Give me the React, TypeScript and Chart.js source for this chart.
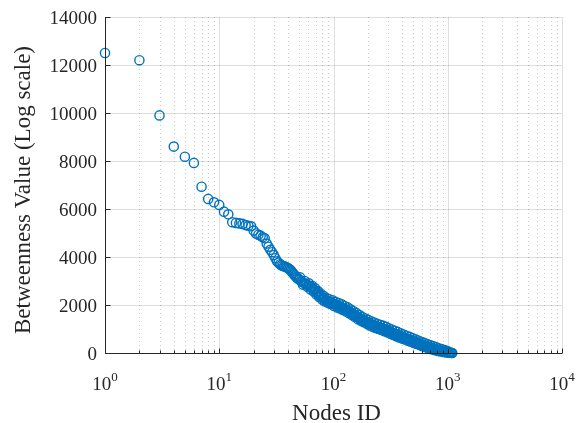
import React, { useEffect, useRef } from "react";
import { Chart, registerables } from "chart.js";

Chart.register(...registerables);

const nodeIds: number[] = [
  1, 2, 3, 4, 5, 6, 7, 8, 9, 10, 11, 12, 13, 14, 15, 16, 17, 18, 19, 20,
  21, 22, 23, 24, 25, 26, 27, 28, 29, 30, 31, 32, 33, 34, 35, 36, 37, 38, 39, 40,
  41, 42, 43, 44, 45, 46, 47, 48, 49, 50,
  52, 53, 55, 57, 58, 60, 62, 64, 66, 68, 70, 72, 74, 76, 78, 81, 83, 86, 88, 91,
  94, 97, 100, 103, 106, 109, 112, 116, 119, 123, 127, 131, 135, 139, 143, 147, 152, 156, 161, 166,
  171, 176, 181, 187, 193, 198, 204, 210, 217, 223, 230, 237, 244, 251, 259, 267, 275, 283, 292, 300,
  309, 319, 328, 338, 348, 359, 370, 381, 392, 404, 416, 429, 441, 455, 468, 482, 497, 512, 527, 543,
  559, 576, 593, 611, 630, 649, 668, 688, 709, 730, 752, 775, 798, 822, 847, 872, 898, 925, 953, 981,
  1010, 1040, 1060, 1080, 1095,
];

const betweenness: number[] = [
  12500, 12200, 9900, 8600, 8180, 7920, 6930, 6420, 6280, 6170, 5890, 5780, 5450, 5420, 5400, 5380, 5330, 5300, 5280, 5100,
  4980, 4930, 4890, 4820, 4780, 4560, 4430, 4300, 4200, 4080, 3950, 3820, 3760, 3700, 3660, 3630, 3610, 3590, 3560, 3540,
  3500, 3460, 3400, 3330, 3280, 3230, 3180, 3140, 3100, 3060,
  3000, 2960, 2930, 2880, 2860, 2820, 2770, 2730, 2680, 2620, 2560, 2500, 2450, 2400, 2350, 2290, 2250, 2200, 2170, 2150,
  2120, 2090, 2060, 2030, 2000, 1980, 1950, 1920, 1890, 1860, 1820, 1790, 1760, 1720, 1680, 1640, 1600, 1560, 1520, 1480,
  1450, 1410, 1380, 1340, 1310, 1280, 1250, 1220, 1190, 1160, 1140, 1110, 1090, 1070, 1050, 1030, 1010, 980, 960, 930,
  900, 870, 840, 810, 790, 760, 740, 710, 690, 660, 640, 610, 590, 560, 540, 510, 490, 470, 450, 420,
  400, 380, 360, 330, 310, 290, 270, 250, 230, 210, 190, 170, 150, 130, 110, 95, 80, 65, 50, 40,
  30, 20, 12, 6, 2,
];

// nodes lying off the central trend (spread of the dense tail)
const nodeIdsSpread: number[] = [
  51, 54, 56, 59, 61, 63, 65, 67, 69, 71, 73, 75, 77, 80, 82, 84, 87, 90, 92, 95,
  98, 101, 104, 108, 111, 114, 118, 121, 125, 129, 133, 137, 141, 145, 150, 154, 159, 164, 169, 174,
  179, 184, 190, 196, 201, 207, 214, 220, 227, 234, 241, 248, 255, 263, 271, 279, 288, 296, 305, 314,
  324, 333, 343, 354, 364, 375, 387, 398, 410, 423, 435, 448, 462, 475, 490, 505, 520, 535, 551, 568,
  585, 602, 621, 640, 659, 678, 699, 720, 741, 764, 787, 810, 835, 860, 885, 912, 939, 967, 995, 1025,
];

const betweennessSpread: number[] = [
  3150, 2850, 3000, 2760, 2900, 2650, 2800, 2560, 2700, 2440, 2580, 2330, 2480, 2220, 2380, 2150, 2290, 2080, 2240, 2040,
  2200, 1960, 2130, 1900, 2080, 1850, 2030, 1790, 1960, 1730, 1900, 1660, 1820, 1580, 1740, 1500, 1660, 1410, 1580, 1340,
  1500, 1280, 1440, 1220, 1380, 1150, 1320, 1090, 1270, 1040, 1220, 1000, 1180, 960, 1140, 910, 1090, 860, 1030, 800,
  980, 750, 930, 700, 880, 650, 820, 600, 770, 560, 720, 510, 670, 470, 620, 420, 570, 380, 520, 330,
  470, 280, 420, 240, 370, 200, 330, 160, 290, 120, 250, 90, 200, 60, 160, 40, 120, 20, 80, 10,
];

const yTicks: number[] = [0, 2000, 4000, 6000, 8000, 10000, 12000, 14000];
const xDecades: number[] = [0, 1, 2, 3, 4];

const SERIF = "'Liberation Serif', 'Times New Roman', serif";
const AXIS_COLOR = "#262626";
const POINT_COLOR = "#0072BD";

const matlabPlugin = {
  id: "matlabAxes",
  beforeDatasetsDraw(chart: any) {
    const { ctx, chartArea: a, scales } = chart;
    const xs = scales.x;
    const ys = scales.y;
    ctx.save();
    ctx.lineWidth = 1;
    ctx.strokeStyle = "rgba(0,0,0,0.13)";
    ctx.setLineDash([]);
    for (const v of yTicks) {
      const y = Math.round(ys.getPixelForValue(v)) + 0.5;
      ctx.beginPath();
      ctx.moveTo(a.left, y);
      ctx.lineTo(a.right, y);
      ctx.stroke();
    }
    for (const e of xDecades) {
      const x = Math.round(xs.getPixelForValue(Math.pow(10, e))) + 0.5;
      ctx.beginPath();
      ctx.moveTo(x, a.top);
      ctx.lineTo(x, a.bottom);
      ctx.stroke();
    }
    ctx.strokeStyle = "rgba(0,0,0,0.2)";
    ctx.setLineDash([1, 3]);
    for (let e = 0; e < 4; e++) {
      for (let k = 2; k <= 9; k++) {
        const x = Math.round(xs.getPixelForValue(k * Math.pow(10, e))) + 0.5;
        ctx.beginPath();
        ctx.moveTo(x, a.top);
        ctx.lineTo(x, a.bottom);
        ctx.stroke();
      }
    }
    ctx.restore();
  },
  afterDatasetsDraw(chart: any) {
    const { ctx, chartArea: a, scales } = chart;
    const xs = scales.x;
    const ys = scales.y;
    ctx.save();
    ctx.setLineDash([]);
    ctx.strokeStyle = AXIS_COLOR;
    ctx.lineWidth = 1;
    const left = Math.round(a.left) + 0.5;
    const bottom = Math.round(a.bottom) + 0.5;
    ctx.beginPath();
    ctx.moveTo(left, a.top);
    ctx.lineTo(left, bottom);
    ctx.lineTo(a.right, bottom);
    ctx.stroke();
    for (const v of yTicks) {
      const y = Math.round(ys.getPixelForValue(v)) + 0.5;
      ctx.beginPath();
      ctx.moveTo(left, y);
      ctx.lineTo(left + 5, y);
      ctx.stroke();
    }
    for (let e = 0; e <= 4; e++) {
      const kmax = e === 4 ? 1 : 9;
      for (let k = 1; k <= kmax; k++) {
        const x = Math.round(xs.getPixelForValue(k * Math.pow(10, e))) + 0.5;
        const len = k === 1 ? 5 : 3;
        ctx.beginPath();
        ctx.moveTo(x, bottom);
        ctx.lineTo(x, bottom - len);
        ctx.stroke();
      }
    }
    ctx.fillStyle = AXIS_COLOR;
    ctx.font = `19px ${SERIF}`;
    ctx.textAlign = "right";
    ctx.textBaseline = "middle";
    for (const v of yTicks) {
      const y = ys.getPixelForValue(v);
      ctx.fillText(String(v), a.left - 8, y + 2);
    }
    for (const e of xDecades) {
      const x = xs.getPixelForValue(Math.pow(10, e));
      ctx.font = `19px ${SERIF}`;
      const wBase = ctx.measureText("10").width;
      ctx.font = `13px ${SERIF}`;
      const wExp = ctx.measureText(String(e)).width;
      const start = x - (wBase + wExp) / 2;
      ctx.textAlign = "left";
      ctx.textBaseline = "alphabetic";
      ctx.font = `19px ${SERIF}`;
      ctx.fillText("10", start, 390);
      ctx.font = `13px ${SERIF}`;
      ctx.fillText(String(e), start + wBase, 381);
    }
    ctx.font = `23px ${SERIF}`;
    ctx.textAlign = "center";
    ctx.textBaseline = "alphabetic";
    ctx.fillText("Nodes ID", (a.left + a.right) / 2 + 3, 420);
    ctx.save();
    ctx.translate(30, (a.top + a.bottom) / 2 + 5);
    ctx.rotate(-Math.PI / 2);
    ctx.fillText("Betweenness Value (Log scale)", 0, 0);
    ctx.restore();
    ctx.restore();
  },
};

export default function App() {
  const canvasRef = useRef<HTMLCanvasElement | null>(null);

  useEffect(() => {
    const canvas = canvasRef.current;
    if (!canvas) return;
    const main = nodeIds.map((id, i) => ({ x: id, y: betweenness[i] }));
    const spread = nodeIdsSpread.map((id, i) => ({ x: id, y: betweennessSpread[i] }));
    const common = {
      pointStyle: "circle",
      pointRadius: 4.6,
      pointBorderWidth: 1.4,
      borderColor: POINT_COLOR,
      backgroundColor: "rgba(0,0,0,0)",
      pointBackgroundColor: "rgba(0,0,0,0)",
      pointBorderColor: POINT_COLOR,
      clip: false as any,
    };
    const chart = new Chart(canvas, {
      type: "scatter",
      data: {
        datasets: [
          { label: "Betweenness", data: main, ...common },
          { label: "Betweenness spread", data: spread, ...common },
        ] as any,
      },
      options: {
        responsive: false,
        animation: false,
        devicePixelRatio: 1,
        layout: { padding: { top: 17, right: 15, left: 0, bottom: 0 } },
        plugins: {
          legend: { display: false },
          tooltip: { enabled: false },
          title: { display: false },
        },
        scales: {
          x: {
            type: "logarithmic",
            min: 1,
            max: 10000,
            grid: { display: false },
            border: { display: false },
            ticks: { display: false },
            afterFit: (s: any) => {
              s.height = 70;
            },
          },
          y: {
            type: "linear",
            min: 0,
            max: 14000,
            grid: { display: false },
            border: { display: false },
            ticks: { display: false, stepSize: 2000 },
            afterFit: (s: any) => {
              s.width = 105;
            },
          },
        },
      },
      plugins: [matlabPlugin],
    });
    return () => chart.destroy();
  }, []);

  return (
    <div style={{ position: "fixed", left: 0, top: 0, width: 577, height: 423, background: "#fff" }}>
      <canvas ref={canvasRef} width={577} height={423} />
    </div>
  );
}
